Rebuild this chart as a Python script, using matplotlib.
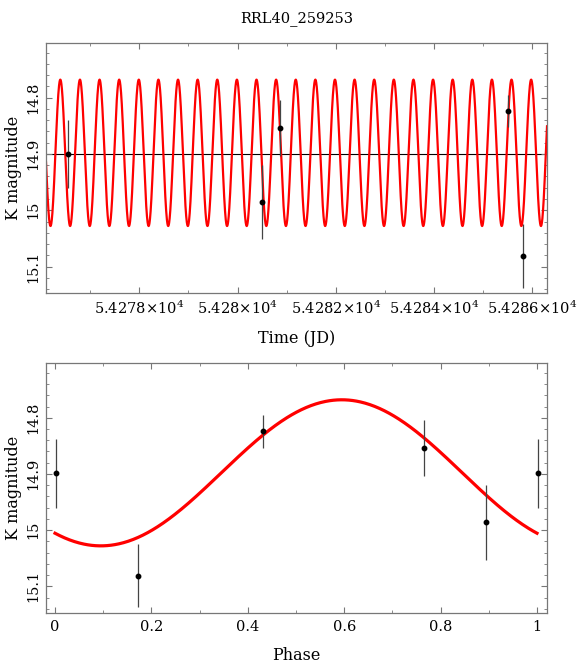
import matplotlib.pyplot as plt
import matplotlib.ticker as mticker
import numpy as np

plt.rcParams['font.family'] = ['DejaVu Serif']
plt.rcParams['mathtext.fontset'] = 'dejavuserif'

title = 'RRL40_259253'

obs_time = [54276.553, 54280.507, 54280.859, 54285.510, 54285.815]
obs_mag = [14.900, 14.985, 14.854, 14.824, 15.081]
obs_err = [0.061, 0.066, 0.050, 0.028, 0.057]

# phased points (first point repeated at phase + 1)
obs_phase = [0.003, 0.172, 0.432, 0.766, 0.894, 1.002]
phase_mag = [14.899, 15.081, 14.824, 14.854, 14.986, 14.899]
phase_err = [0.061, 0.056, 0.029, 0.050, 0.067, 0.061]

# sinusoid model
period = 0.3994
epoch = 54276.553
mean_mag = 14.898
amplitude = 0.13
phase_max = 0.595
line_mag = 14.90


def model(phase):
    return mean_mag - amplitude * np.cos(2 * np.pi * (np.asarray(phase) - phase_max))


def sci_fmt(v, pos):
    return r'%g$\times$10$^{4}$' % (v / 1e4)


def style_axes(ax):
    for sp in ax.spines.values():
        sp.set_color('#777777')
        sp.set_linewidth(0.9)
    ax.tick_params(which='both', direction='in', top=True, right=True,
                   color='#777777', labelsize=10.5)
    ax.tick_params(axis='x', pad=5)
    ax.tick_params(axis='y', pad=4)
    ax.tick_params(which='major', length=4.5)
    ax.tick_params(which='minor', length=2.5)
    plt.setp(ax.get_yticklabels(), rotation=90, va='center')


fig = plt.figure(figsize=(5.78, 6.64), dpi=100)
ax1 = fig.add_axes([0.0796, 0.5587, 0.8668, 0.3765])
ax2 = fig.add_axes([0.0796, 0.0764, 0.8668, 0.3765])

# top panel: light curve vs time
xlim_t = (54276.10, 54286.30)
tt = np.linspace(xlim_t[0], xlim_t[1], 4000)
ax1.axhline(line_mag, color='black', lw=0.8, zorder=1)
ax1.plot(tt, model((tt - epoch) / period), color='#ff0000', lw=1.6, zorder=2)
ax1.errorbar(obs_time, obs_mag, yerr=obs_err, fmt='o', color='black',
             ecolor='#444444', elinewidth=0.9, markersize=3.2, capsize=0,
             zorder=3)
ax1.set_xlim(*xlim_t)
ax1.set_ylim(15.147, 14.703)
ax1.xaxis.set_major_locator(mticker.MultipleLocator(2))
ax1.xaxis.set_minor_locator(mticker.MultipleLocator(1))
ax1.xaxis.set_major_formatter(mticker.FuncFormatter(sci_fmt))
ax1.yaxis.set_major_locator(mticker.FixedLocator([14.8, 14.9, 15.0, 15.1]))
ax1.yaxis.set_major_formatter(mticker.FuncFormatter(lambda v, p: '%g' % v))
ax1.yaxis.set_minor_locator(mticker.MultipleLocator(0.02))
ax1.set_xlabel('Time (JD)', fontsize=11.5, labelpad=9)
ax1.set_ylabel('K magnitude', fontsize=11.5, labelpad=3)
ax1.set_title(title, fontsize=10.5, pad=15)
style_axes(ax1)

# bottom panel: phased light curve
ph = np.linspace(0, 1, 500)
ax2.plot(ph, model(ph), color='#ff0000', lw=2.3, zorder=2)
ax2.errorbar(obs_phase, phase_mag, yerr=phase_err, fmt='o', color='black',
             ecolor='#444444', elinewidth=0.9, markersize=3.2, capsize=0,
             zorder=3)
ax2.set_xlim(-0.0187, 1.0208)
ax2.set_ylim(15.148, 14.703)
ax2.xaxis.set_major_locator(mticker.MultipleLocator(0.2))
ax2.xaxis.set_minor_locator(mticker.MultipleLocator(0.1))
ax2.xaxis.set_major_formatter(mticker.FuncFormatter(lambda v, p: '%g' % round(v, 2)))
ax2.yaxis.set_major_locator(mticker.FixedLocator([14.8, 14.9, 15.0, 15.1]))
ax2.yaxis.set_major_formatter(mticker.FuncFormatter(lambda v, p: '%g' % v))
ax2.yaxis.set_minor_locator(mticker.MultipleLocator(0.02))
ax2.set_xlabel('Phase', fontsize=11.5, labelpad=9)
ax2.set_ylabel('K magnitude', fontsize=11.5, labelpad=3)
style_axes(ax2)

fig.savefig('out.png', dpi=100)
